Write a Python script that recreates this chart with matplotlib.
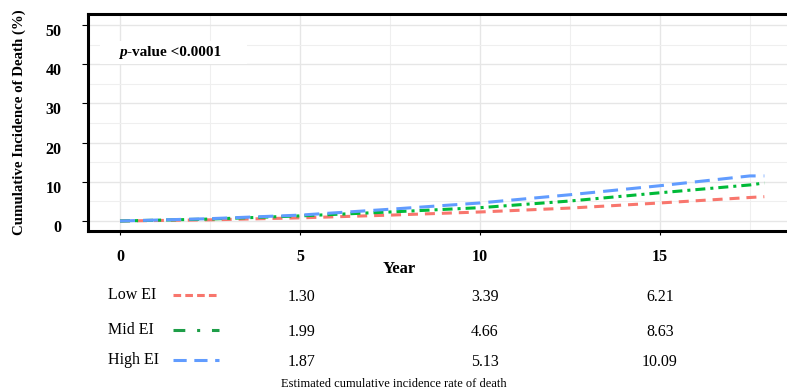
import matplotlib
matplotlib.use("Agg")
import matplotlib.pyplot as plt
import matplotlib.transforms as mtransforms
from matplotlib.lines import Line2D
from matplotlib.patches import Rectangle

# ---- data ----
years = [0, 2.5, 5, 7.5, 10, 12.5, 15, 17.5, 17.9]
low_ei = [0, 0.3, 0.8, 1.5, 2.3, 3.3, 4.6, 6.0, 6.2]
mid_ei = [0, 0.5, 1.3, 2.3, 3.4, 5.1, 7.2, 9.2, 9.7]
high_ei = [0, 0.6, 1.5, 3.0, 4.6, 6.7, 9.0, 11.5, 11.5]

groups = ["Low EI", "Mid EI", "High EI"]
table_low = ["1.30", "3.39", "6.21"]
table_mid = ["1.99", "4.66", "8.63"]
table_high = ["1.87", "5.13", "10.09"]

xticks = [0, 5, 10, 15]
yticks = [0, 10, 20, 30, 40, 50]

colors = ["#F8766D", "#00BA38", "#619CFF"]
sample_colors = ["#F8766D", "#1E9E48", "#619CFF"]

plt.rcParams["lines.scale_dashes"] = False
serif = ["Liberation Serif", "DejaVu Serif"]

W, H = 787, 392
fig = plt.figure(figsize=(W / 100, H / 100), dpi=100)
ax = fig.add_axes([88 / W, 1 - 231 / H, (787 - 88) / W, (231 - 14) / H])

ax.set_xlim(-0.889, 18.53)
ax.set_ylim(-2.55, 52.8)

# grid
ax.set_xticks(xticks)
ax.set_yticks(yticks)
ax.set_xticks([2.5, 7.5, 12.5, 17.5], minor=True)
ax.set_yticks([5, 15, 25, 35, 45], minor=True)
ax.grid(True, which="major", color="#e6e6e6", lw=1.0)
ax.grid(True, which="minor", color="#efefef", lw=0.8)
ax.set_axisbelow(True)
ax.tick_params(which="minor", length=0)
ax.tick_params(axis="x", which="major", length=3, width=0.8, pad=10)
ax.tick_params(axis="y", which="major", length=4, width=0.8, pad=15)

for lbl in ax.get_xticklabels() + ax.get_yticklabels():
    lbl.set_fontfamily(serif)
    lbl.set_fontweight("bold")
    lbl.set_fontsize(11.5)

shift = mtransforms.ScaledTranslation(0, -5 / 100, fig.dpi_scale_trans)
for lbl in ax.get_yticklabels():
    lbl.set_transform(lbl.get_transform() + shift)

for s in ["left", "bottom", "top"]:
    ax.spines[s].set_linewidth(2.2)
    ax.spines[s].set_color("black")
ax.spines["right"].set_visible(False)

# lines
ax.plot(years, low_ei, color=colors[0], lw=2.2, dashes=(7.2, 5.0))
ax.plot(years, mid_ei, color=colors[1], lw=2.2, dashes=(7.2, 3.6, 2.2, 3.6))
ax.plot(years, high_ei, color=colors[2], lw=2.2, dashes=(10.8, 5.8))

ax.set_ylabel("Cumulative Incidence of Death (%)", fontfamily=serif,
              fontweight="bold", fontsize=10.7)
ax.yaxis.set_label_coords((26 - 88) / 699, 0.5)
ax.set_xlabel("Year", fontfamily=serif, fontweight="bold", fontsize=12)
ax.xaxis.set_label_coords((399 - 88) / 699, (231 - 261) / 217)

# p-value box
ax.add_patch(Rectangle(((100 - 88) / 699, (231 - 64) / 217), 147 / 699, 23 / 217,
                       transform=ax.transAxes, facecolor="white", edgecolor="none", zorder=1.5))
t1 = ax.text((119 - 88) / 699, (231 - 56) / 217, "p", transform=ax.transAxes,
             fontfamily=serif, fontweight="bold", fontstyle="italic", fontsize=11,
             va="baseline", zorder=3)
ax.annotate("-value <0.0001", xy=(1, 0), xycoords=t1, va="bottom", ha="left",
            fontfamily=serif, fontweight="bold", fontsize=11, zorder=3)

# table below
row_y = [295, 330, 360]
val_x = [302, 485, 660]
tables = [table_low, table_mid, table_high]
sample_dashes = [(5.5, 3.0), (8.5, 8.5, 2.2, 8.5), (9.5, 5.5)]
for i, g in enumerate(groups):
    yy = 1 - row_y[i] / H
    fig.text(108 / W, yy, g, fontfamily=serif, fontsize=11.5, va="center", ha="left")
    fig.add_artist(Line2D([173 / W, 219 / W], [yy, yy], transform=fig.transFigure,
                          color=sample_colors[i], lw=2.2, dashes=sample_dashes[i]))
    for j, v in enumerate(tables[i]):
        fig.text(val_x[j] / W, 1 - (row_y[i] + 2) / H, v, fontfamily=serif,
                 fontsize=11.5, va="center", ha="center")

fig.text(394 / W, 1 - 384 / H, "Estimated cumulative incidence rate of death",
         fontfamily=serif, fontsize=9, va="center", ha="center")

fig.savefig("out.png", dpi=100)
